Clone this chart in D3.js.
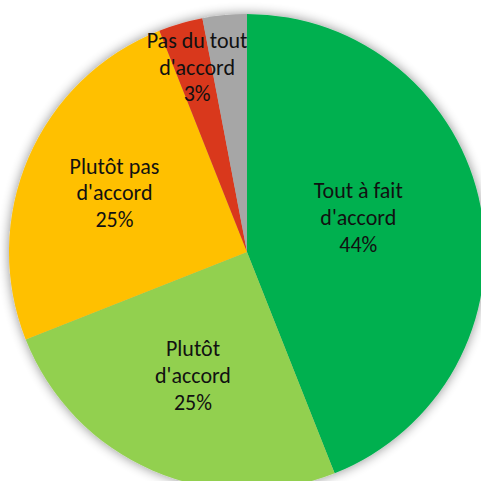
<!DOCTYPE html>
<html><head><meta charset="utf-8">
<script src="https://cdn.jsdelivr.net/npm/d3@7"></script>
<style>html,body{margin:0;padding:0;background:#fff;}svg{display:block;}</style>
</head><body>
<script>
const categories = ["Tout à fait d'accord", "Plutôt d'accord", "Plutôt pas d'accord", "Pas du tout d'accord", "Sans avis"];
const values = [44, 25, 25, 3, 3];
const labelLines = [["Tout à fait", "d'accord", "44%"], ["Plutôt", "d'accord", "25%"], ["Plutôt pas", "d'accord", "25%"], ["Pas du tout", "d'accord", "3%"], []];
const colors = ["#00B050", "#92D050", "#FFC000", "#D9381E", "#A6A6A6"];

const W = 481, H = 481, cx = 247, cy = 252, R = 238;
const svg = d3.select("body").append("svg").attr("width", W).attr("height", H);
const defs = svg.append("defs");
const f = defs.append("filter").attr("id", "sh").attr("x", "-20%").attr("y", "-20%").attr("width", "140%").attr("height", "140%");
f.append("feGaussianBlur").attr("in", "SourceAlpha").attr("stdDeviation", 6).attr("result", "b");
f.append("feOffset").attr("in", "b").attr("dx", 0).attr("dy", 0).attr("result", "o");
f.append("feComponentTransfer").attr("in", "o").attr("result", "t").append("feFuncA").attr("type", "linear").attr("slope", 0.45);
const m = f.append("feMerge"); m.append("feMergeNode").attr("in", "t"); m.append("feMergeNode").attr("in", "SourceGraphic");

const data = categories.map((c, i) => ({c, v: values[i], lines: labelLines[i], color: colors[i]}));
const pie = d3.pie().value(d => d.v).sort(null);
const arc = d3.arc().innerRadius(0).outerRadius(R);
const arcs = pie(data);
const g = svg.append("g").attr("transform", `translate(${cx},${cy})`);
g.append("g").attr("filter", "url(#sh)").selectAll("path").data(arcs).join("path")
  .attr("d", arc).attr("fill", d => d.data.color);

// label placement: radius fraction and angle tweak (degrees) relative to slice mid-angle
const labelR = [0.49, 0.565, 0.61, 0.805, 0.6];
const labelDA = [-6.6, 0.3, 0.7, 1.1, 0];
const lh = 26.7;
arcs.forEach((a, i) => {
  if (!a.data.lines.length) return;
  const ang = (a.startAngle + a.endAngle) / 2 + labelDA[i] * Math.PI / 180;
  const r = R * labelR[i];
  const x = Math.sin(ang) * r, y = -Math.cos(ang) * r;
  const t = g.append("text").attr("text-anchor", "middle")
    .attr("font-family", "Carlito, Lato, 'Liberation Sans', sans-serif").attr("font-size", 22).attr("fill", "#111");
  const n = a.data.lines.length;
  a.data.lines.forEach((l, k) => {
    t.append("tspan").attr("x", x).attr("y", y + (k - (n - 1) / 2) * lh).attr("dy", "0.35em").text(l);
  });
});
</script>
</body></html>
